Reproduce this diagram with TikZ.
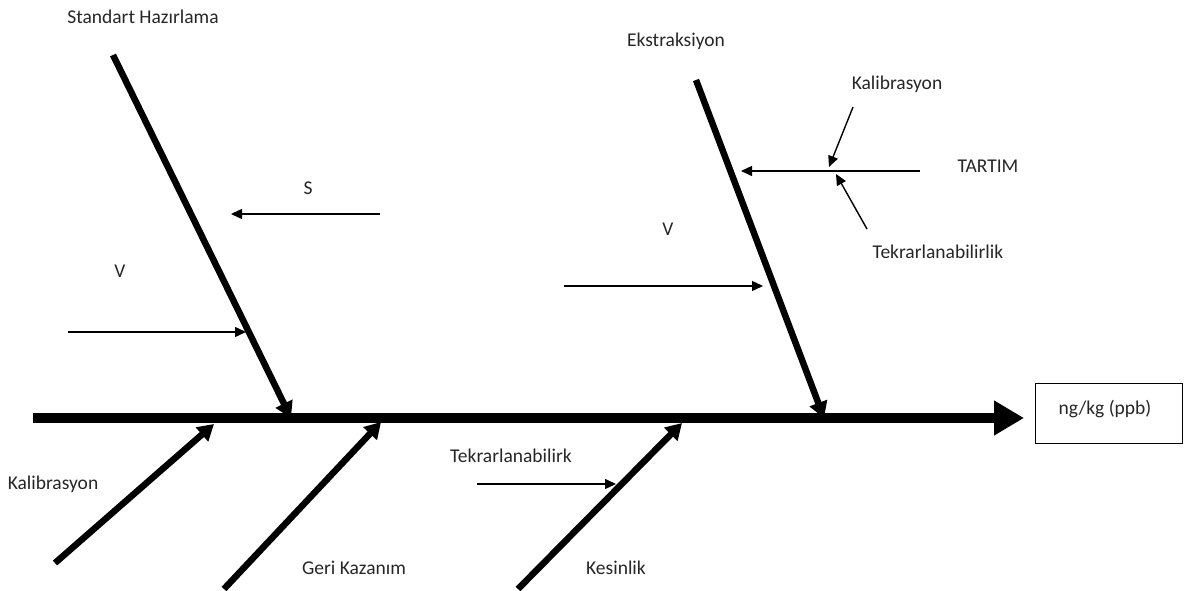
\documentclass[tikz,border=0pt]{standalone}
\usepackage{fontspec}
\setmainfont{Carlito}
\usetikzlibrary{arrows.meta}
\begin{document}
\begin{tikzpicture}[x=1pt,y=-1pt,
  lbl/.style={font=\fontsize{19.5}{22}\selectfont, text=black!85, inner sep=0pt},
  spine/.style={line width=10pt, -{Triangle[length=30pt,width=33pt]}},
  bone/.style={line width=6.5pt, line cap=butt, -{Triangle[length=16pt,width=18pt]}},
  thin/.style={line width=1.4pt, -{Triangle[length=11pt,width=10pt]}}]
\path[use as bounding box] (0,0) rectangle (1184,591);
% spine
\coordinate (s0) at (33,418);
\coordinate (s1) at (1024,418);
\draw[spine] (s0) -- (s1);
\node[draw, line width=0.8pt, minimum width=147pt, minimum height=60pt, anchor=north west, inner sep=0pt] (out) at (1035,383) {};
\node[lbl] (outl) at (1105,409) {ng/kg (ppb)};
% Standart Hazirlama
\coordinate (a0) at (113,55);
\coordinate (a1) at (291,418);
\draw[bone] (a0) -- (a1);
\node[lbl] (al) at (143,17) {Standart Hazırlama};
\coordinate (sS0) at (380,214);
\coordinate (sS1) at (231,214);
\draw[thin] (sS0) -- (sS1);
\node[lbl] (sl) at (308,188) {S};
\coordinate (v0) at (68,332);
\coordinate (v1) at (246,332);
\draw[thin] (v0) -- (v1);
\node[lbl] (vl) at (120,271) {V};
% Ekstraksiyon
\coordinate (b0) at (696,80);
\coordinate (b1) at (824,418);
\draw[bone] (b0) -- (b1);
\node[lbl] (bl) at (676,41) {Ekstraksiyon};
\coordinate (t0) at (920,171);
\coordinate (t1) at (741,171);
\draw[thin] (t0) -- (t1);
\node[lbl] (tl) at (988,166) {TARTIM};
\coordinate (k0) at (853,107);
\coordinate (k1) at (829,167);
\draw[thin] (k0) -- (k1);
\node[lbl] (kl) at (897,84) {Kalibrasyon};
\coordinate (r0) at (867,229);
\coordinate (r1) at (836,174);
\draw[thin] (r0) -- (r1);
\node[lbl] (rl) at (938,252) {Tekrarlanabilirlik};
\coordinate (w0) at (564,286);
\coordinate (w1) at (763,286);
\draw[thin] (w0) -- (w1);
\node[lbl] (wl) at (668,229) {V};
% bottom bones
\coordinate (c0) at (55,563);
\coordinate (c1) at (214,424);
\draw[bone] (c0) -- (c1);
\node[lbl] (cl) at (53,484) {Kalibrasyon};
\coordinate (g0) at (224,589);
\coordinate (g1) at (381,422);
\draw[bone] (g0) -- (g1);
\node[lbl] (gl) at (354,568) {Geri Kazanım};
\coordinate (e0) at (518,589);
\coordinate (e1) at (682,423);
\draw[bone] (e0) -- (e1);
\node[lbl] (el) at (616,568) {Kesinlik};
\coordinate (q0) at (477,484);
\coordinate (q1) at (616,484);
\draw[thin] (q0) -- (q1);
\node[lbl] (ql) at (511,456) {Tekrarlanabilirk};
\end{tikzpicture}
\end{document}
